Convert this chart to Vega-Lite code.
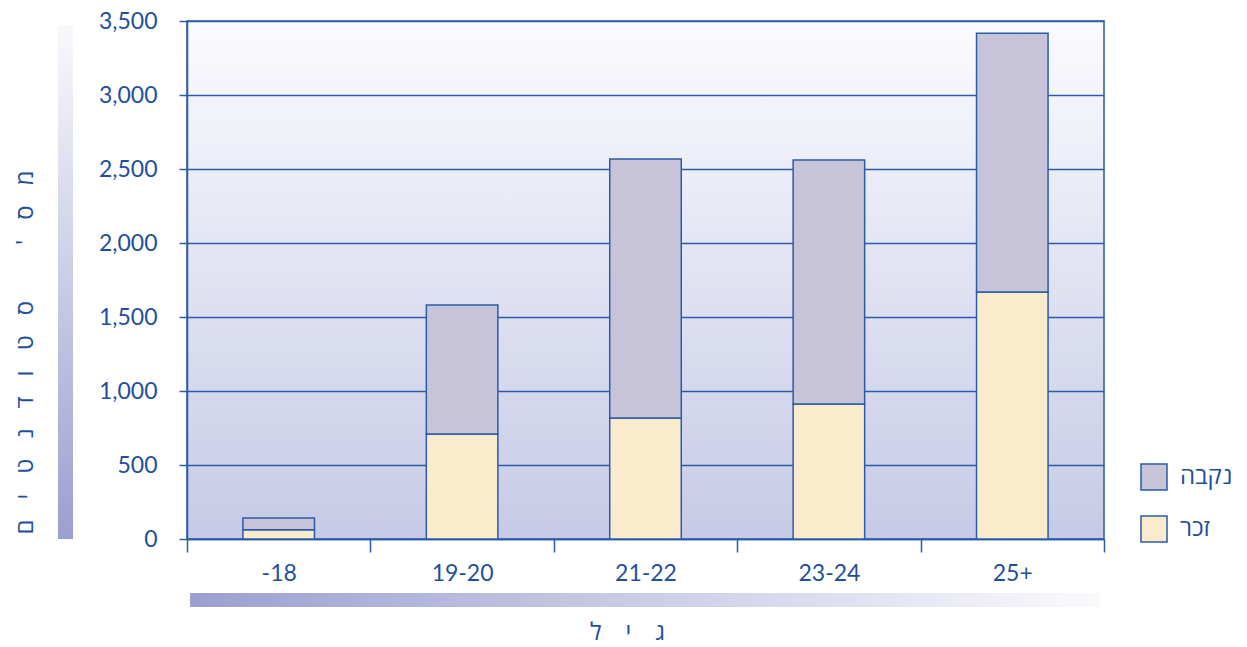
{
  "$schema": "https://vega.github.io/schema/vega-lite/v6.json",
  "width": 917,
  "height": 518,
  "autosize": {"type": "none"},
  "padding": {"left": 187, "top": 21, "right": 143, "bottom": 108},
  "background": "white",
  "config": {
    "font": "Lato, 'DejaVu Sans'",
    "view": {
      "stroke": "#2a5ca8",
      "strokeWidth": 1.5,
      "fill": {"gradient": "linear", "x1": 0, "y1": 0, "x2": 0, "y2": 1,
        "stops": [{"offset": 0, "color": "#fbfbfe"}, {"offset": 1, "color": "#c6cae6"}]}
    },
    "axis": {
      "domainColor": "#2a5ca8", "domainWidth": 1.5,
      "tickColor": "#2a5ca8", "tickWidth": 1.5,
      "gridColor": "#2a5ca8", "gridWidth": 1.5, "gridOpacity": 1,
      "labelColor": "#1f4f9c", "titleColor": "#1f4f9c",
      "labelFont": "Lato, 'DejaVu Sans'", "titleFont": "'Open Sans', 'DejaVu Sans'",
      "labelFontSize": 22, "titleFontSize": 22, "titleFontWeight": "normal"
    },
    "legend": {
      "labelFont": "'Open Sans', 'DejaVu Sans'", "labelFontSize": 24, "labelColor": "#1f4f9c"
    }
  },
  "resolve": {"scale": {"x": "independent"}},
  "layer": [
    {
      "data": {"values": [{}]},
      "mark": {"type": "rect", "fill": {"gradient": "linear", "x1": 0, "y1": 0, "x2": 0, "y2": 1,
        "stops": [{"offset": 0, "color": "#f9f9fc"}, {"offset": 1, "color": "#99a0d0"}]}},
      "encoding": {
        "x": {"datum": -0.1407, "type": "quantitative", "scale": {"domain": [0, 1], "nice": false, "zero": false}, "axis": null},
        "x2": {"datum": -0.1243},
        "y": {"datum": 0, "type": "quantitative", "scale": {"domain": [0, 3500], "nice": false}},
        "y2": {"datum": 3473}
      }
    },
    {
      "data": {"values": [{}]},
      "mark": {"type": "rect", "fill": {"gradient": "linear", "x1": 0, "y1": 0, "x2": 1, "y2": 0,
        "stops": [{"offset": 0, "color": "#99a0d0"}, {"offset": 1, "color": "#fafafd"}]}},
      "encoding": {
        "x": {"datum": 0.0033, "type": "quantitative", "scale": {"domain": [0, 1], "nice": false, "zero": false}, "axis": null},
        "x2": {"datum": 0.9956},
        "y": {"datum": -365, "type": "quantitative", "scale": {"domain": [0, 3500], "nice": false}},
        "y2": {"datum": -459}
      }
    },
    {
      "data": {"values": [
        {"age": "-18", "sex": "זכר", "count": 62},
        {"age": "-18", "sex": "נקבה", "count": 80},
        {"age": "19-20", "sex": "זכר", "count": 710},
        {"age": "19-20", "sex": "נקבה", "count": 871},
        {"age": "21-22", "sex": "זכר", "count": 818},
        {"age": "21-22", "sex": "נקבה", "count": 1750},
        {"age": "23-24", "sex": "זכר", "count": 912},
        {"age": "23-24", "sex": "נקבה", "count": 1649},
        {"age": "25+", "sex": "זכר", "count": 1669},
        {"age": "25+", "sex": "נקבה", "count": 1749}
      ]},
      "mark": {"type": "bar", "width": {"band": 0.39}, "stroke": "#2a5ca8", "strokeWidth": 1.5},
      "encoding": {
        "x": {
          "field": "age", "type": "nominal",
          "sort": ["-18", "19-20", "21-22", "23-24", "25+"],
          "scale": {"paddingInner": 0, "paddingOuter": 0},
          "axis": {
            "title": "ג\u2003י\u2003ל",
            "labelAngle": 0, "tickBand": "extent", "tickSize": 13, "labelPadding": 10, "labelFontSize": 23,
            "titleX": 440, "titleY": 93, "titleBaseline": "middle", "titleFontSize": 24
          }
        },
        "y": {
          "field": "count", "type": "quantitative", "stack": "zero",
          "scale": {"domain": [0, 3500], "nice": false},
          "axis": {
            "values": [0, 500, 1000, 1500, 2000, 2500, 3000, 3500],
            "format": ",d", "grid": true, "tickSize": 8, "labelPadding": 22, "labelFontSize": 23,
            "title": "מ\u2002\u2004ס\u2002\u2004'\u2002\u2004\u2003\u2002ס\u2002\u2004ט\u2002\u2004ו\u2002\u2004ד\u2002\u2004נ\u2002\u2004ט\u2002\u2004י\u2002\u2004ם",
            "titleFontSize": 24,
            "titleAngle": 270, "titleX": -162, "titleY": 331, "titleBaseline": "middle", "titleAlign": "center"
          }
        },
        "color": {
          "field": "sex", "type": "nominal",
          "scale": {"domain": ["נקבה", "זכר"], "range": ["#c7c4d9", "#f9ebcc"]},
          "legend": {
            "title": null, "orient": "none", "legendX": 953, "legendY": 442,
            "symbolType": "square", "symbolSize": 676, "symbolStrokeColor": "#2a5ca8",
            "symbolStrokeWidth": 1.5, "symbolOpacity": 1, "rowPadding": 20, "labelOffset": 12
          }
        },
        "order": {"field": "sex", "sort": "ascending"}
      }
    }
  ]
}
